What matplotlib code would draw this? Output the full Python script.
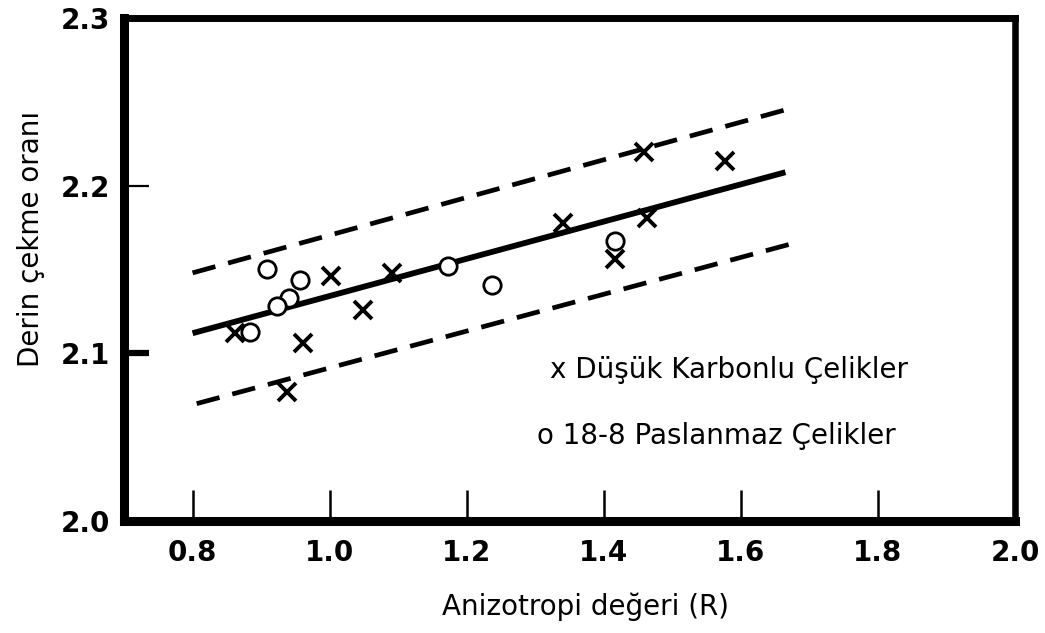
import numpy as np
import matplotlib
matplotlib.use("Agg")
import matplotlib.pyplot as plt

# --- Veriler ---
# x: Dusuk karbonlu celikler
karbon_R = [0.862, 1.002, 1.091, 1.049, 0.961, 0.938, 1.341, 1.458, 1.577, 1.463, 1.417]
karbon_oran = [2.112, 2.146, 2.148, 2.126, 2.106, 2.077, 2.178, 2.220, 2.215, 2.181, 2.156]

# o: 18-8 paslanmaz celikler
paslanmaz_R = [0.909, 0.957, 0.941, 0.923, 0.884, 1.172, 1.237, 1.417]
paslanmaz_oran = [2.150, 2.144, 2.133, 2.128, 2.113, 2.152, 2.141, 2.167]

# regresyon dogrusu ve alt/ust sinirlar
fit_R = [0.800, 1.665]
fit_oran = [2.112, 2.208]
ust_R = [0.800, 1.672]
ust_oran = [2.148, 2.246]
alt_R = [0.806, 1.680]
alt_oran = [2.070, 2.166]

x_ticks = [0.8, 1.0, 1.2, 1.4, 1.6, 1.8, 2.0]
x_tick_labels = ["0.8", "1.0", "1.2", "1.4", "1.6", "1.8", "2.0"]
y_ticks = [2.0, 2.1, 2.2, 2.3]
y_tick_labels = ["2.0", "2.1", "2.2", "2.3"]

plt.rcParams["font.family"] = ["DejaVu Sans"]

fig = plt.figure(figsize=(10.45, 6.33), dpi=100)
ax = fig.add_axes([0.1187, 0.1769, 0.8526, 0.7947])

# --- cizgiler ---
ax.plot(fit_R, fit_oran, color="black", linewidth=4.2, solid_capstyle="butt")
for xs, ys in [(ust_R, ust_oran), (alt_R, alt_oran)]:
    ax.plot(xs, ys, color="black", linewidth=3.4, dashes=(5.0, 2.8),
            dash_capstyle="butt")

# --- noktalar ---
ax.plot(karbon_R, karbon_oran, linestyle="none", marker="x", markersize=13,
        markeredgewidth=2.8, color="black")
ax.plot(paslanmaz_R, paslanmaz_oran, linestyle="none", marker="o", markersize=12.5,
        markeredgewidth=2.0, markerfacecolor="white", markeredgecolor="black")

ax.set_xlim(0.7, 2.0)
ax.set_ylim(2.0, 2.3)

ax.set_xticks(x_ticks)
ax.set_xticklabels(x_tick_labels, fontsize=20, fontweight="bold")
ax.set_yticks(y_ticks)
ax.set_yticklabels(y_tick_labels, fontsize=20, fontweight="bold")
ax.tick_params(axis="x", direction="in", length=22, width=1.8, pad=13)
ax.tick_params(axis="y", direction="in", length=18, width=1.6, pad=10)
# 2.1 cizgisi kalin
ax.yaxis.get_major_ticks()[1].tick1line.set_markeredgewidth(4.5)

# --- kenarlar ---
ax.spines["left"].set_linewidth(6.5)
ax.spines["bottom"].set_linewidth(6.5)
ax.spines["top"].set_linewidth(5)
ax.spines["right"].set_linewidth(4.7)

# --- eksen yazilari ---
ax.set_xlabel("Anizotropi değeri (R)", fontsize=20)
ax.xaxis.set_label_coords(0.518, -0.142)
ax.set_ylabel("Derin çekme oranı", fontsize=20)
ax.yaxis.set_label_coords(-0.089, 0.56)

# --- aciklama ---
ax.text(0.478, 0.30, "x Düşük Karbonlu Çelikler", transform=ax.transAxes,
        fontsize=20, ha="left", va="center")
ax.text(0.464, 0.17, "o 18-8 Paslanmaz Çelikler", transform=ax.transAxes,
        fontsize=20, ha="left", va="center")

fig.savefig("out.png", dpi=100, facecolor="white")
